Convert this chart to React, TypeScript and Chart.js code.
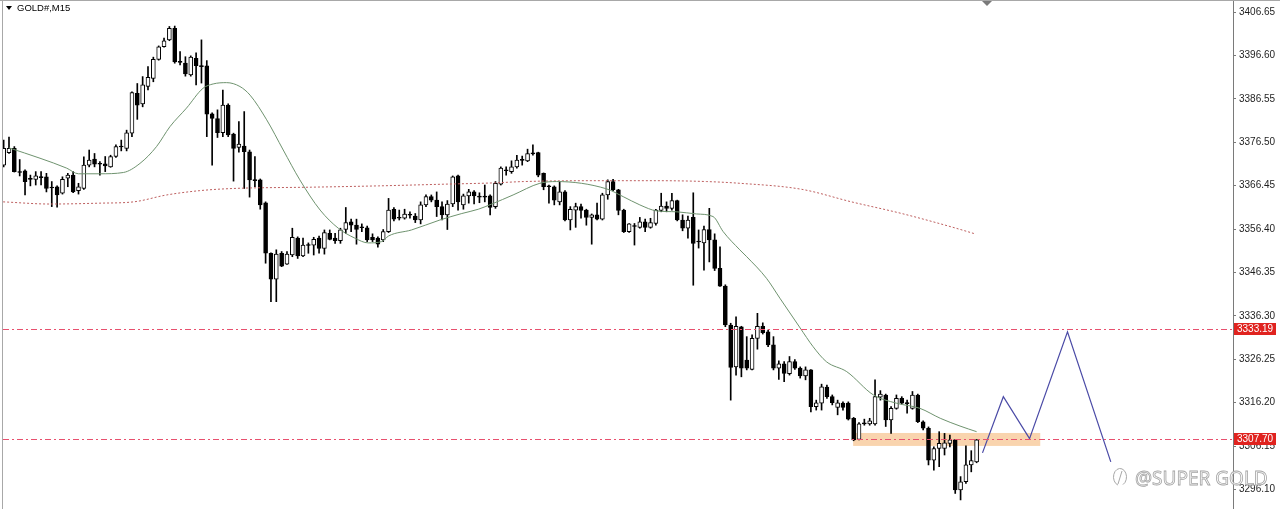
import React, { useEffect, useRef } from 'react';
import { Chart, registerables } from 'chart.js';

Chart.register(...registerables);

// ---- data ----
const symbolTitle = 'GOLD#,M15';
const watermarkText = '@SUPER GOLD';
const firstIndex = -1;

const opens = [
  3371.2, 3374.1, 3375.1, 3369.7, 3369.9, 3368.0, 3367.9, 3368.3, 3368.5, 3366.0,
  3366.2, 3364.7, 3368.2, 3368.9, 3365.3, 3365.8, 3371.2, 3372.6, 3371.5, 3371.5,
  3370.8, 3373.2, 3375.5, 3375.1, 3378.6, 3387.8, 3385.4, 3389.4, 3391.3, 3395.7,
  3398.6, 3400.2, 3402.9, 3395.1, 3394.8, 3392.1, 3395.9, 3394.2, 3394.2, 3383.1,
  3382.0, 3378.7, 3385.1, 3378.4, 3375.3, 3375.6, 3374.3, 3367.8, 3367.8, 3362.5,
  3350.8, 3344.8, 3350.8, 3348.3, 3350.4, 3354.3, 3350.2, 3352.7, 3352.7, 3354.3,
  3351.9, 3355.4, 3354.3, 3353.7, 3356.3, 3358.1, 3357.3, 3356.8, 3356.7, 3354.5,
  3354.3, 3353.9, 3355.8, 3361.0, 3359.0, 3358.9, 3359.7, 3359.4, 3358.5, 3362.0,
  3363.9, 3363.1, 3361.6, 3359.7, 3362.2, 3368.7, 3362.0, 3364.1, 3365.0, 3363.9,
  3363.9, 3364.1, 3361.6, 3366.8, 3370.1, 3369.7, 3370.8, 3372.4, 3372.2, 3373.9,
  3374.1, 3369.3, 3366.3, 3366.2, 3362.7, 3365.0, 3358.5, 3360.8, 3361.6, 3360.8,
  3359.1, 3359.7, 3358.7, 3364.3, 3367.4, 3365.5, 3360.8, 3355.8, 3357.1, 3356.8,
  3358.1, 3356.8, 3357.7, 3360.7, 3361.7, 3361.2, 3363.0, 3358.5, 3356.6, 3359.1,
  3353.5, 3353.2, 3356.3, 3353.9, 3347.3, 3343.2, 3334.2, 3324.5, 3333.8, 3326.1,
  3323.9, 3331.1, 3333.9, 3332.6, 3329.6, 3324.2, 3325.2, 3322.9, 3325.7, 3324.2,
  3322.4, 3323.8, 3315.3, 3316.1, 3319.8, 3317.6, 3315.1, 3316.1, 3316.1, 3312.6,
  3307.7, 3311.4, 3311.3, 3311.3, 3317.5, 3318.0, 3312.2, 3314.9, 3317.2, 3316.1,
  3314.9, 3318.0, 3311.8, 3310.3, 3302.9, 3305.6, 3305.6, 3306.8, 3307.6, 3296.0,
  3297.9, 3301.8, 3302.5,
];
const highs = [
  3377.0, 3377.7, 3375.5, 3372.5, 3370.1, 3368.9, 3369.7, 3369.7, 3369.3, 3367.4,
  3366.4, 3368.5, 3369.3, 3369.7, 3367.0, 3373.1, 3374.7, 3373.9, 3372.0, 3373.2,
  3373.5, 3375.9, 3377.0, 3379.3, 3388.2, 3390.1, 3391.7, 3394.0, 3396.2, 3398.8,
  3400.6, 3403.3, 3403.4, 3397.5, 3396.3, 3396.5, 3397.2, 3400.2, 3395.4, 3383.3,
  3384.0, 3388.6, 3385.4, 3378.6, 3381.3, 3383.6, 3374.7, 3373.2, 3368.0, 3362.7,
  3350.9, 3351.6, 3351.2, 3351.2, 3356.6, 3354.6, 3354.3, 3353.2, 3354.5, 3354.8,
  3356.2, 3356.2, 3355.4, 3356.6, 3361.4, 3358.7, 3358.7, 3357.6, 3357.1, 3355.3,
  3354.6, 3356.3, 3363.5, 3361.4, 3360.8, 3361.0, 3360.4, 3360.0, 3362.7, 3364.3,
  3364.3, 3365.0, 3362.7, 3363.0, 3368.7, 3368.9, 3364.5, 3365.6, 3365.3, 3364.8,
  3366.6, 3364.3, 3367.4, 3370.8, 3370.8, 3372.2, 3373.5, 3373.3, 3374.9, 3375.9,
  3374.2, 3369.4, 3366.6, 3366.4, 3367.4, 3365.3, 3361.6, 3362.4, 3362.2, 3361.0,
  3359.9, 3362.4, 3364.7, 3367.8, 3367.9, 3365.6, 3361.0, 3357.7, 3357.7, 3359.1,
  3358.7, 3358.9, 3361.0, 3364.7, 3362.7, 3364.7, 3363.1, 3359.7, 3359.4, 3364.8,
  3356.2, 3357.1, 3361.2, 3355.3, 3352.3, 3343.5, 3334.6, 3336.1, 3333.9, 3331.5,
  3331.9, 3336.9, 3334.7, 3333.0, 3331.5, 3325.9, 3325.7, 3326.9, 3326.2, 3324.5,
  3324.5, 3323.9, 3316.8, 3320.5, 3320.3, 3318.0, 3316.8, 3316.4, 3316.4, 3312.8,
  3311.6, 3312.4, 3312.6, 3321.5, 3319.0, 3318.2, 3315.3, 3318.0, 3317.6, 3316.8,
  3318.8, 3318.2, 3312.0, 3310.6, 3306.0, 3309.5, 3309.1, 3308.7, 3307.7, 3299.1,
  3306.2, 3305.1, 3307.7,
];
const lows = [
  3370.8, 3373.9, 3369.6, 3368.7, 3364.3, 3366.4, 3366.6, 3366.6, 3365.0, 3361.6,
  3361.5, 3364.5, 3366.2, 3364.8, 3364.5, 3365.6, 3370.8, 3370.8, 3368.9, 3369.7,
  3370.7, 3373.0, 3374.5, 3374.5, 3377.8, 3381.8, 3384.7, 3388.6, 3390.5, 3395.5,
  3398.5, 3400.0, 3394.8, 3394.4, 3391.8, 3391.8, 3389.8, 3390.2, 3377.8, 3371.2,
  3377.6, 3377.8, 3377.8, 3367.5, 3374.2, 3365.8, 3363.8, 3366.2, 3361.0, 3348.5,
  3339.6, 3339.6, 3347.7, 3348.2, 3350.0, 3349.6, 3350.0, 3350.8, 3350.4, 3350.8,
  3350.6, 3353.9, 3353.1, 3353.1, 3355.4, 3355.8, 3352.9, 3355.8, 3353.5, 3353.5,
  3352.2, 3353.5, 3355.6, 3358.3, 3358.5, 3358.7, 3358.9, 3357.9, 3357.6, 3361.6,
  3362.7, 3359.3, 3358.5, 3356.3, 3361.6, 3360.8, 3361.0, 3362.4, 3362.2, 3362.5,
  3362.7, 3359.7, 3361.2, 3366.6, 3368.9, 3369.3, 3370.5, 3371.2, 3372.0, 3373.5,
  3368.5, 3365.5, 3362.4, 3362.0, 3362.0, 3358.3, 3356.2, 3356.8, 3358.9, 3357.3,
  3352.9, 3358.5, 3358.5, 3363.3, 3365.3, 3359.7, 3355.6, 3355.6, 3352.7, 3356.6,
  3355.8, 3356.6, 3357.3, 3360.4, 3360.4, 3360.8, 3358.3, 3356.0, 3354.3, 3343.4,
  3352.0, 3346.9, 3348.8, 3346.8, 3343.1, 3333.8, 3316.8, 3322.6, 3322.2, 3323.8,
  3323.8, 3328.6, 3332.1, 3329.2, 3323.8, 3321.6, 3321.1, 3322.6, 3323.9, 3321.9,
  3321.5, 3314.1, 3314.5, 3314.5, 3317.2, 3315.7, 3313.4, 3314.5, 3312.2, 3307.4,
  3307.6, 3311.0, 3311.0, 3311.0, 3316.8, 3310.7, 3309.1, 3314.7, 3315.9, 3313.8,
  3314.7, 3311.6, 3309.9, 3301.8, 3300.6, 3301.4, 3304.1, 3306.0, 3295.2, 3293.7,
  3297.5, 3300.2, 3302.3,
];
const closes = [
  3375.1, 3375.1, 3369.7, 3369.5, 3367.4, 3367.9, 3368.7, 3368.4, 3365.8, 3365.9,
  3364.3, 3367.9, 3368.9, 3365.0, 3366.2, 3371.2, 3372.4, 3371.4, 3371.4, 3371.0,
  3373.2, 3375.5, 3375.4, 3378.7, 3388.0, 3385.1, 3389.8, 3391.5, 3395.7, 3398.6,
  3400.0, 3402.9, 3395.1, 3395.0, 3392.3, 3396.2, 3394.2, 3394.0, 3383.0, 3382.0,
  3378.7, 3385.1, 3378.2, 3375.1, 3376.1, 3374.3, 3367.8, 3367.6, 3362.0, 3350.8,
  3344.8, 3350.6, 3347.8, 3350.6, 3354.5, 3350.2, 3352.7, 3352.6, 3354.0, 3351.9,
  3355.6, 3354.0, 3353.7, 3356.2, 3357.9, 3357.3, 3356.3, 3356.7, 3353.9, 3353.9,
  3352.9, 3355.8, 3360.8, 3358.7, 3358.9, 3359.9, 3359.6, 3358.5, 3362.0, 3363.9,
  3363.1, 3361.6, 3359.7, 3362.2, 3368.5, 3362.7, 3364.1, 3365.0, 3364.1, 3363.8,
  3363.8, 3361.4, 3367.0, 3370.5, 3369.9, 3370.8, 3372.4, 3372.3, 3373.9, 3373.8,
  3368.9, 3366.2, 3366.2, 3363.1, 3365.0, 3358.5, 3361.0, 3361.6, 3360.7, 3359.1,
  3359.7, 3358.7, 3364.3, 3367.4, 3365.5, 3360.7, 3355.8, 3357.6, 3357.0, 3358.1,
  3356.8, 3357.9, 3360.8, 3361.7, 3361.2, 3363.0, 3358.5, 3356.6, 3358.5, 3353.1,
  3353.4, 3356.3, 3353.9, 3347.3, 3343.2, 3334.2, 3324.4, 3333.9, 3324.2, 3324.2,
  3331.1, 3333.9, 3332.4, 3329.6, 3324.2, 3325.2, 3323.0, 3325.7, 3324.2, 3322.4,
  3323.8, 3315.3, 3316.2, 3319.9, 3317.6, 3316.2, 3316.2, 3315.1, 3312.4, 3307.6,
  3311.3, 3311.3, 3312.0, 3317.6, 3318.2, 3312.2, 3314.9, 3317.2, 3316.1, 3316.0,
  3318.0, 3311.8, 3310.3, 3302.9, 3305.6, 3306.8, 3306.9, 3307.6, 3296.0, 3297.9,
  3301.8, 3302.8, 3307.6,
];

// fast moving average (solid green), read at bar positions
const maFastIdx = [0, 5.8, 10.8, 13.0, 17.0, 21.4, 24.5, 27.6, 30.1, 33.2, 36.3, 38.2, 40.7, 43.2, 45.1, 48.2, 51.3, 54.4, 58.2, 61.6, 64.7, 67.2, 69.7, 71.0, 75.3, 80.6, 84.7, 87.8, 90.3, 94.3, 99.3, 102.4, 111.8, 114.9, 118.0, 121.2, 124.9, 128.6, 131.7, 133.6, 136.7, 138.0, 141.7, 144.2, 148.0, 150.4, 152.9, 156.7, 161.7, 166.0, 170.4, 174.2, 177.9, 181.0];
const maFastVal = [3375.2, 3372.8, 3370.5, 3369.2, 3369.2, 3369.5, 3371.6, 3375.5, 3380.1, 3384.4, 3389.0, 3390.0, 3390.3, 3389.4, 3387.4, 3381.7, 3374.7, 3367.8, 3360.8, 3356.6, 3354.3, 3353.2, 3353.5, 3354.8, 3356.2, 3358.5, 3360.0, 3361.0, 3362.2, 3364.3, 3367.0, 3367.4, 3365.7, 3363.9, 3362.0, 3360.6, 3360.4, 3359.9, 3359.3, 3355.8, 3351.6, 3350.0, 3345.0, 3340.4, 3333.5, 3329.2, 3325.7, 3323.4, 3318.0, 3316.1, 3314.9, 3312.6, 3310.8, 3309.5];

// slow moving average (dotted red)
const maSlowIdx = [-1.1, 7.7, 17.0, 23.3, 29.5, 35.7, 42.0, 56.6, 69.1, 81.6, 90.9, 96.2, 108.7, 121.2, 130.5, 136.7, 148.3, 157.6, 167.0, 176.3, 180.7];
const maSlowVal = [3362.7, 3362.2, 3362.4, 3362.7, 3364.3, 3365.3, 3365.8, 3366.1, 3366.4, 3366.8, 3367.1, 3367.4, 3367.6, 3367.6, 3367.4, 3367.0, 3365.6, 3362.7, 3360.0, 3356.9, 3355.3];

// projected zig-zag path (blue)
const zigIdx = [182.1, 186.0, 190.9, 198.0, 206.1];
const zigVal = [3304.6, 3317.6, 3307.9, 3332.6, 3302.5];

// horizontal levels and support zone
const levelPrices = [3333.19, 3307.70];
const zoneIdx = [157.9, 192.9];
const zonePrices = [3306.2, 3309.2];

// right axis
const tickValues = [3406.65, 3396.60, 3386.55, 3376.50, 3366.45, 3356.40, 3346.35, 3336.30, 3326.25, 3316.20, 3306.15, 3296.10];
const yMin = 3291.6;
const yMax = 3409.43;
const xMin = -1.122;
const xMax = 228.96;

const FONT = '"Liberation Sans", Arial, sans-serif';

const overlayPlugin = {
  id: 'mt4overlay',
  beforeDraw(chart: any) {
    const { ctx, width, height } = chart;
    ctx.save();
    ctx.fillStyle = '#ffffff';
    ctx.fillRect(0, 0, width, height);
    ctx.restore();
  },
  beforeDatasetsDraw(chart: any) {
    const { ctx, scales } = chart;
    const x0 = scales.x.getPixelForValue(zoneIdx[0]);
    const x1 = scales.x.getPixelForValue(zoneIdx[1]);
    const y0 = scales.y.getPixelForValue(zonePrices[1]);
    const y1 = scales.y.getPixelForValue(zonePrices[0]);
    ctx.save();
    ctx.fillStyle = 'rgba(248, 205, 160, 0.85)';
    ctx.fillRect(x0, y0, x1 - x0, y1 - y0);
    ctx.restore();
  },
  afterDatasetsDraw(chart: any) {
    const { ctx, scales, chartArea } = chart;
    ctx.save();
    ctx.strokeStyle = '#e8506e';
    ctx.lineWidth = 1.2;
    ctx.setLineDash([6, 3, 2, 3]);
    levelPrices.forEach((p) => {
      const y = Math.round(scales.y.getPixelForValue(p)) + 0.5;
      ctx.beginPath();
      ctx.moveTo(chartArea.left, y);
      ctx.lineTo(chartArea.right, y);
      ctx.stroke();
    });
    ctx.restore();
  },
  afterDraw(chart: any) {
    const { ctx, scales, chartArea, width } = chart;
    ctx.save();
    // frame
    ctx.strokeStyle = '#a8a8a8';
    ctx.lineWidth = 1;
    ctx.beginPath();
    ctx.moveTo(0, 0.5);
    ctx.lineTo(width, 0.5);
    ctx.moveTo(2.5, 0);
    ctx.lineTo(2.5, chart.height);
    ctx.stroke();
    // shift marker
    ctx.fillStyle = '#7a7a7a';
    ctx.beginPath();
    ctx.moveTo(982, 1);
    ctx.lineTo(992, 1);
    ctx.lineTo(987, 6);
    ctx.closePath();
    ctx.fill();
    // title
    ctx.fillStyle = '#000';
    ctx.beginPath();
    ctx.moveTo(6, 6);
    ctx.lineTo(12, 6);
    ctx.lineTo(9, 10);
    ctx.closePath();
    ctx.fill();
    ctx.font = '9.5px ' + FONT;
    ctx.textBaseline = 'middle';
    ctx.textAlign = 'left';
    ctx.fillText(symbolTitle, 17, 8.5);
    // price tags
    levelPrices.forEach((p) => {
      const y = Math.round(scales.y.getPixelForValue(p));
      ctx.fillStyle = '#e0231f';
      ctx.fillRect(chartArea.right + 1, y - 6, 42, 12);
      ctx.fillStyle = '#ffffff';
      ctx.font = '10px ' + FONT;
      ctx.fillText(p.toFixed(2), chartArea.right + 4, y + 0.5);
    });
    // watermark
    ctx.strokeStyle = '#a8a8a8';
    ctx.lineWidth = 1;
    ctx.beginPath();
    ctx.ellipse(1120, 477, 6.5, 8.5, 0, Math.PI * 0.6, Math.PI * 2.35);
    ctx.stroke();
    ctx.beginPath();
    ctx.moveTo(1122, 471);
    ctx.lineTo(1118, 484);
    ctx.stroke();
    ctx.font = '19px "Noto Sans", sans-serif';
    ctx.textBaseline = 'alphabetic';
    ctx.fillStyle = 'rgba(255,255,255,0.7)';
    ctx.fillText(watermarkText, 1135, 485);
    ctx.strokeStyle = '#a4a4a4';
    ctx.lineWidth = 0.8;
    ctx.strokeText(watermarkText, 1135, 485);
    ctx.restore();
  },
};

export default function App() {
  const ref = useRef<HTMLCanvasElement | null>(null);

  useEffect(() => {
    document.body.style.margin = '0';
    const canvas = ref.current;
    if (!canvas) return;
    const idx = opens.map((_, k) => firstIndex + k);
    const wickData = idx.map((x, k) => ({ x, y: [lows[k], highs[k]] }));
    const bodyData = idx.map((x, k) => ({ x, y: [opens[k], closes[k]] }));
    const bodyFill = idx.map((_, k) => {
      const diff = closes[k] - opens[k];
      if (Math.abs(diff) < 0.45) return '#000000';
      return diff > 0 ? '#ffffff' : '#000000';
    });

    const chart = new Chart(canvas, {
      type: 'bar',
      data: {
        datasets: [
          {
            type: 'line',
            data: zigIdx.map((x, k) => ({ x, y: zigVal[k] })),
            borderColor: '#4a4aa6',
            borderWidth: 1.2,
            pointRadius: 0,
            tension: 0,
            order: 1,
          } as any,
          {
            type: 'line',
            data: maFastIdx.map((x, k) => ({ x, y: maFastVal[k] })),
            borderColor: '#6f936f',
            borderWidth: 1,
            pointRadius: 0,
            cubicInterpolationMode: 'monotone',
            order: 2,
          } as any,
          {
            type: 'line',
            data: maSlowIdx.map((x, k) => ({ x, y: maSlowVal[k] })),
            borderColor: 'rgb(190, 95, 95)',
            borderWidth: 1,
            borderDash: [2, 2],
            pointRadius: 0,
            cubicInterpolationMode: 'monotone',
            order: 3,
          } as any,
          {
            type: 'bar',
            data: bodyData,
            backgroundColor: bodyFill,
            borderColor: '#000000',
            borderWidth: 1,
            borderSkipped: false,
            barThickness: 4,
            minBarLength: 1,
            grouped: false,
            order: 4,
          } as any,
          {
            type: 'bar',
            data: wickData,
            backgroundColor: '#000000',
            borderWidth: 0,
            barThickness: 1,
            grouped: false,
            order: 5,
          } as any,
        ],
      },
      options: {
        animation: false,
        responsive: false,
        maintainAspectRatio: false,
        events: [],
        layout: { padding: { left: 3, top: 0, right: 0, bottom: 0 } },
        plugins: {
          legend: { display: false },
          tooltip: { enabled: false },
          title: { display: false },
        },
        scales: {
          x: {
            type: 'linear',
            display: false,
            min: xMin,
            max: xMax,
            offset: false,
            grid: { display: false },
          },
          y: {
            type: 'linear',
            position: 'right',
            min: yMin,
            max: yMax,
            afterBuildTicks: (s: any) => {
              s.ticks = tickValues.map((v) => ({ value: v }));
            },
            afterFit: (s: any) => {
              s.width = 47;
              s.paddingTop = 0;
              s.paddingBottom = 0;
            },
            ticks: {
              autoSkip: false,
              padding: 3,
              color: '#1e1e1e',
              font: { family: FONT, size: 10 },
              callback: (v: any) => Number(v).toFixed(2),
            },
            grid: {
              drawOnChartArea: false,
              drawTicks: true,
              tickLength: 3,
              color: '#7a7a7a',
            },
            border: { display: true, color: '#7a7a7a' },
          },
        },
      } as any,
      plugins: [overlayPlugin],
    });

    return () => {
      chart.destroy();
    };
  }, []);

  return (
    <div style={{ width: 1280, height: 509, overflow: 'hidden' }}>
      <canvas ref={ref} width={1280} height={509} style={{ display: 'block' }} />
    </div>
  );
}
